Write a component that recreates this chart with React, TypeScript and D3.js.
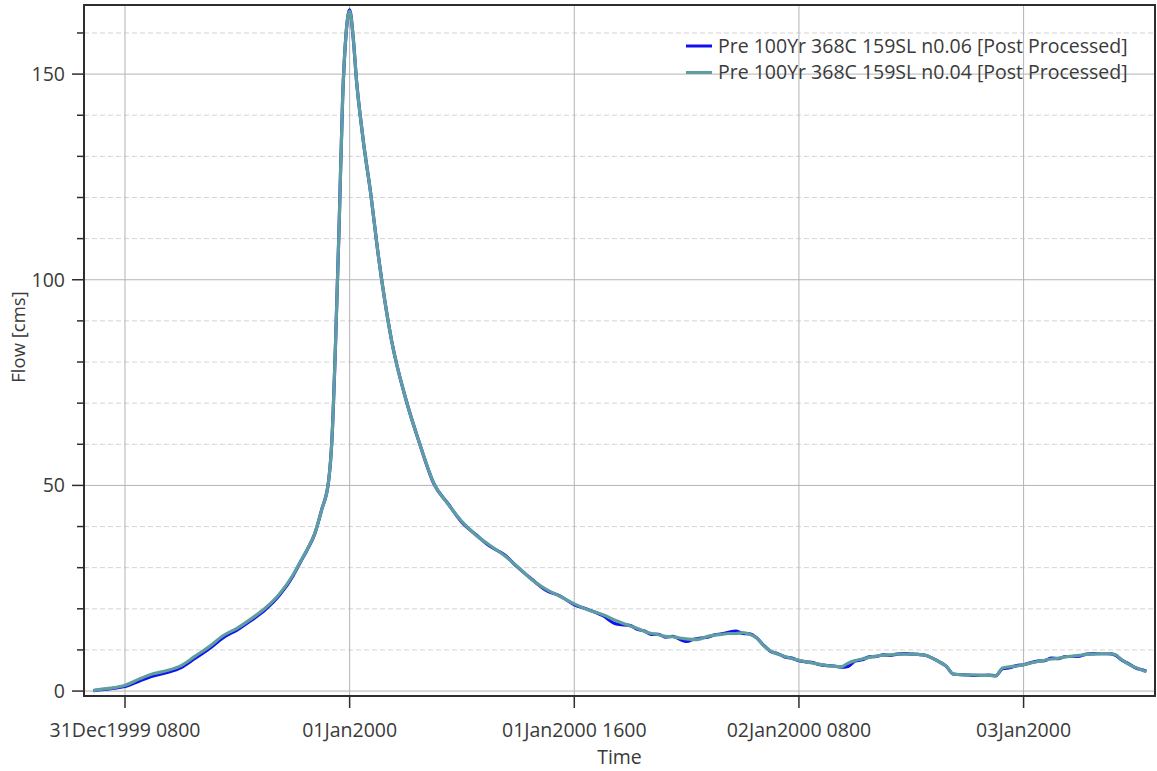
import React, { useEffect, useRef } from 'react';
import * as d3 from 'd3';

// hours since 31Dec1999 0000
const hours = [
  5.75, 6, 7, 8, 9, 10, 11, 12, 13, 14, 15, 16, 17, 18, 19, 20, 20.5, 21, 21.5, 22,
  22.5, 22.75, 23, 23.25, 23.5, 23.75, 24, 24.25, 24.5, 24.75, 25, 25.5, 26, 26.5, 27,
  28, 29, 30, 31, 32, 33, 34, 35, 36, 37, 38, 39, 40, 41, 42, 43, 44,
  44.5, 45, 45.5, 46, 46.5, 47, 47.5, 48, 48.5, 49, 49.5, 50, 50.5, 51, 51.5, 52, 52.5,
  53, 53.5, 54, 54.5, 55, 55.5, 56, 56.5, 57, 57.5, 58, 58.5, 59, 59.5, 60, 60.5, 61,
  61.5, 62, 62.5, 63, 63.5, 64, 64.5, 65, 65.5, 66, 66.5, 67, 67.5, 68, 68.5, 69, 69.5,
  70, 70.5, 71, 71.5, 72, 72.5, 73, 73.5, 74, 74.5, 75, 75.5, 76, 76.5, 77, 77.5, 78,
  78.5, 79, 79.5, 80, 80.5, 80.75,
];

const flowN006 = [
  0.1, 0.2, 0.6, 1.1, 2.4, 3.7, 4.5, 5.7, 8.0, 10.3, 13.0, 14.9, 17.2, 19.8, 23.3, 28.2, 31.4, 34.5, 38.1, 44,
  51, 62, 85, 113, 144, 160, 165.6, 159, 148, 140, 133, 121, 107, 95, 85,
  71, 60, 50.4, 45.6, 41.0, 38.0, 35.2, 33.2, 30.0, 27.1, 24.5, 23.1, 21.0, 19.8, 18.4, 16.3, 15.9,
  15.0, 14.6, 13.8, 13.8, 13.1, 13.3, 12.6, 12.1, 12.6, 12.9, 13.1, 13.7, 13.9, 14.3, 14.6, 14.0, 13.9,
  12.9, 11.1, 9.6, 9.1, 8.3, 8.0, 7.4, 7.1, 6.9, 6.4, 6.2, 6.1, 5.8, 6.0, 7.3, 7.6, 8.3,
  8.4, 8.8, 8.7, 9.0, 9.1, 9.0, 8.9, 8.7, 8.0, 7.1, 6.0, 4.1, 4.0, 3.9, 3.8, 3.8, 3.9,
  3.7, 5.4, 5.7, 6.2, 6.4, 6.9, 7.3, 7.4, 8.0, 7.9, 8.4, 8.4, 8.5, 9.0, 9.1, 9.1, 9.1,
  8.8, 7.5, 6.6, 5.6, 5.1, 4.8,
];

const flowN004 = [
  0.1, 0.3, 0.7, 1.4, 2.9, 4.2, 5.0, 6.2, 8.5, 10.8, 13.5, 15.3, 17.6, 20.2, 23.6, 28.4, 31.5, 34.6, 38.2, 44,
  51, 62, 85, 113, 144, 160, 165.3, 159, 148, 140, 133, 121, 107, 95, 85,
  71, 60, 50.5, 45.5, 41.2, 37.9, 35.4, 33.0, 30.1, 27.0, 24.7, 23.0, 21.2, 19.7, 18.6, 17.1, 15.8,
  15.2, 14.5, 14.0, 13.7, 13.3, 13.2, 12.9, 12.7, 12.5, 12.7, 13.3, 13.6, 13.8, 14.0, 14.0, 14.2, 13.8,
  12.9, 11.0, 9.7, 9.0, 8.4, 7.9, 7.5, 7.1, 6.8, 6.5, 6.2, 6.0, 5.9, 6.8, 7.4, 7.8, 8.2,
  8.5, 8.7, 8.8, 9.0, 9.0, 9.0, 8.9, 8.7, 8.0, 7.1, 6.0, 4.1, 4.0, 3.9, 3.9, 3.8, 3.8,
  3.7, 5.6, 5.9, 6.1, 6.4, 6.8, 7.2, 7.5, 7.8, 8.0, 8.3, 8.5, 8.7, 8.9, 9.0, 9.1, 9.1,
  8.9, 7.6, 6.5, 5.7, 5.0, 4.7,
];

const seriesNames = [
  'Pre 100Yr 368C 159SL n0.06 [Post Processed]',
  'Pre 100Yr 368C 159SL n0.04 [Post Processed]',
];
const seriesColors = ['#1010f0', '#5f9ea0'];

const yMajorTicks = [0, 50, 100, 150];
const yMinorTicks = [10, 20, 30, 40, 60, 70, 80, 90, 110, 120, 130, 140, 160];
const xTickHours = [8, 24, 40, 56, 72];

const t0 = Date.UTC(1999, 11, 31, 0, 0);
const toDate = (h: number) => new Date(t0 + h * 3600 * 1000);

const App: React.FC = () => {
  const chartRef = useRef<SVGSVGElement>(null);

  useEffect(() => {
    const width = 1157;
    const height = 771;
    const left = 84, right = 1155, top = 5, bottom = 696;
    const font = '"Open Sans", "Noto Sans", sans-serif';
    const fontSize = 19.5;
    const textColor = '#3a3a3a';

    const svg = d3.select(chartRef.current);
    svg.selectAll('*').remove();
    svg.attr('width', width).attr('height', height);

    svg.append('rect').attr('width', width).attr('height', height).attr('fill', '#fff');

    const x = d3.scaleUtc().domain([toDate(5.08), toDate(81.36)]).range([left, right]);
    const y = d3.scaleLinear().domain([-1.2, 166.8]).range([bottom, top]);

    // minor dashed grid
    svg.append('g')
      .selectAll('line')
      .data(yMinorTicks)
      .enter()
      .append('line')
      .attr('x1', left).attr('x2', right)
      .attr('y1', d => y(d)).attr('y2', d => y(d))
      .attr('stroke', '#d4d4d4')
      .attr('stroke-dasharray', '5,3');

    // major grid
    svg.append('g')
      .selectAll('line')
      .data(yMajorTicks)
      .enter()
      .append('line')
      .attr('x1', left).attr('x2', right)
      .attr('y1', d => y(d)).attr('y2', d => y(d))
      .attr('stroke', '#b4b4b4');

    svg.append('g')
      .selectAll('line')
      .data(xTickHours)
      .enter()
      .append('line')
      .attr('x1', d => x(toDate(d))).attr('x2', d => x(toDate(d)))
      .attr('y1', top).attr('y2', bottom)
      .attr('stroke', '#b4b4b4');

    // series: n0.06 first, n0.04 on top
    const line = d3.line<number>()
      .x((d, i) => x(toDate(hours[i])))
      .y(d => y(d))
      .curve(d3.curveMonotoneX);

    [flowN006, flowN004].forEach((vals, i) => {
      svg.append('path')
        .datum(vals)
        .attr('d', line)
        .attr('fill', 'none')
        .attr('stroke', seriesColors[i])
        .attr('stroke-width', 3.2)
        .attr('stroke-linejoin', 'round');
    });

    // frame
    svg.append('rect')
      .attr('x', left).attr('y', top)
      .attr('width', right - left).attr('height', bottom - top)
      .attr('fill', 'none')
      .attr('stroke', '#2e2e2e')
      .attr('stroke-width', 2);

    // y ticks
    svg.append('g')
      .selectAll('line')
      .data(yMinorTicks)
      .enter()
      .append('line')
      .attr('x1', left - 7).attr('x2', left)
      .attr('y1', d => y(d)).attr('y2', d => y(d))
      .attr('stroke', '#2e2e2e').attr('stroke-width', 1.5);

    svg.append('g')
      .selectAll('line')
      .data(yMajorTicks)
      .enter()
      .append('line')
      .attr('x1', left - 12).attr('x2', left)
      .attr('y1', d => y(d)).attr('y2', d => y(d))
      .attr('stroke', '#2e2e2e').attr('stroke-width', 1.5);

    svg.append('g')
      .selectAll('text')
      .data(yMajorTicks)
      .enter()
      .append('text')
      .attr('x', left - 19)
      .attr('y', d => y(d))
      .attr('dy', '0.35em')
      .attr('text-anchor', 'end')
      .attr('font-family', font)
      .attr('font-size', fontSize)
      .attr('fill', textColor)
      .text(d => d);

    // x ticks
    const fmtDay = d3.utcFormat('%d%b%Y');
    const fmtTime = d3.utcFormat('%d%b%Y %H%M');
    svg.append('g')
      .selectAll('line')
      .data(xTickHours)
      .enter()
      .append('line')
      .attr('x1', d => x(toDate(d))).attr('x2', d => x(toDate(d)))
      .attr('y1', bottom).attr('y2', bottom + 12)
      .attr('stroke', '#2e2e2e').attr('stroke-width', 1.5);

    svg.append('g')
      .selectAll('text')
      .data(xTickHours)
      .enter()
      .append('text')
      .attr('x', d => x(toDate(d)))
      .attr('y', 737)
      .attr('text-anchor', 'middle')
      .attr('font-family', font)
      .attr('font-size', fontSize)
      .attr('fill', textColor)
      .text(d => {
        const dt = toDate(d);
        return dt.getUTCHours() === 0 ? fmtDay(dt) : fmtTime(dt);
      });

    // axis titles
    svg.append('text')
      .attr('x', (left + right) / 2)
      .attr('y', 764)
      .attr('text-anchor', 'middle')
      .attr('font-family', font)
      .attr('font-size', fontSize)
      .attr('fill', textColor)
      .text('Time');

    svg.append('text')
      .attr('transform', 'translate(25, 337) rotate(-90)')
      .attr('text-anchor', 'middle')
      .attr('font-family', font)
      .attr('font-size', 18.5)
      .attr('fill', textColor)
      .text('Flow [cms]');

    // legend
    const legend = svg.append('g').attr('transform', 'translate(686, 46)');
    seriesNames.forEach((name, i) => {
      const g = legend.append('g').attr('transform', `translate(0, ${i * 26.5})`);
      g.append('line')
        .attr('x1', 0).attr('x2', 26)
        .attr('stroke', seriesColors[i])
        .attr('stroke-width', 3);
      g.append('text')
        .attr('x', 32)
        .attr('dy', '0.35em')
        .attr('font-family', font)
        .attr('font-size', fontSize)
        .attr('fill', textColor)
        .text(name);
    });
  }, []);

  return (
    <div style={{ position: 'absolute', left: 0, top: 0 }}>
      <svg ref={chartRef} style={{ display: 'block' }}></svg>
    </div>
  );
};

export default App;
